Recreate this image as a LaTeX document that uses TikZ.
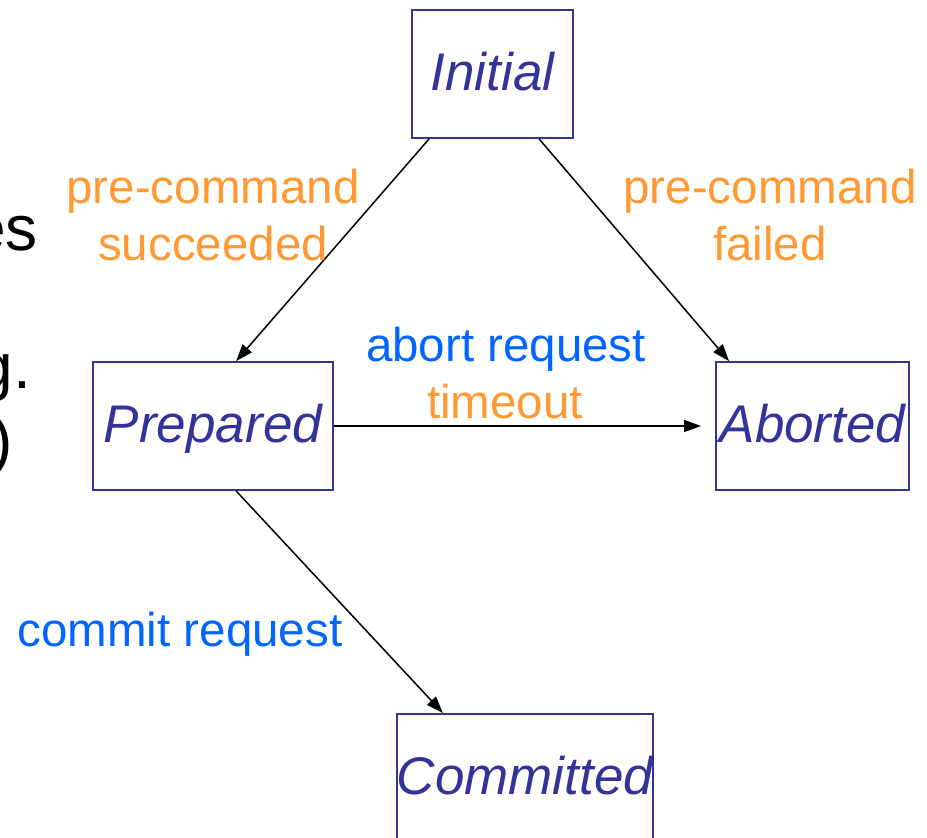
\documentclass[tikz,border=0pt]{standalone}
\usepackage{fontspec}
\setmainfont{Liberation Sans}
\usetikzlibrary{arrows.meta}
\definecolor{statecol}{HTML}{333399}
\definecolor{orangecol}{HTML}{FF9933}
\definecolor{bluecol}{HTML}{0066FF}
\tikzset{
  statebox/.style={draw=statecol, line width=1.8pt, inner sep=0pt, text=statecol,
    text height=44pt, text depth=12pt,
    font=\fontsize{53}{60}\selectfont\itshape},
  arr/.style={draw=black, line width=1.5pt, -{Triangle[length=17pt,width=12pt]}},
  lbl/.style={inner sep=0pt, align=center, font=\fontsize{47.5}{57}\selectfont},
  frag/.style={inner sep=0pt, anchor=base east, font=\fontsize{64}{74}\selectfont}
}
\begin{document}
\begin{tikzpicture}[x=1pt,y=-1pt]
\clip (0,0) rectangle (927,838);
\fill[white] (0,0) rectangle (927,838);
% fragments of slide text on the left
\node[frag] (f1) at (38,250) {es};
\node[frag] (f2) at (31,388) {g.};
\node[frag] (f3) at (13,462) {)};
% states
\node[statebox, minimum width=161pt, minimum height=128pt] (init) at (492.5,74) {Initial};
\node[statebox, minimum width=240pt, minimum height=128pt] (prep) at (213,426) {Prepared};
\node[statebox, minimum width=193pt, minimum height=128pt] (abrt) at (812.5,426) {Aborted};
\node[statebox, minimum width=256pt, minimum height=128pt] (comm) at (525,778) {Committed};
% connectors
\draw[arr] ([xshift=18pt]init.south west) -- ([xshift=144pt]prep.north west);
\draw[arr] ([xshift=128pt]init.south west) -- ([xshift=14pt]abrt.north west);
\draw[arr] (prep.east) -- ([xshift=-14pt]abrt.west);
\draw[arr] ([xshift=144pt]prep.south west) -- ([xshift=47pt]comm.north west);
% labels
\node[lbl, text=orangecol] (l1) at (213,215) {pre-command\\succeeded};
\node[lbl, text=orangecol] (l2) at (770,215) {pre-command\\failed};
\node[lbl, text=bluecol, anchor=base] (l3) at (506,361) {abort request};
\node[lbl, text=orangecol, anchor=base] (l4) at (505,418) {timeout};
\node[lbl, text=bluecol, anchor=base] (l5) at (180,646) {commit request};
\end{tikzpicture}
\end{document}
